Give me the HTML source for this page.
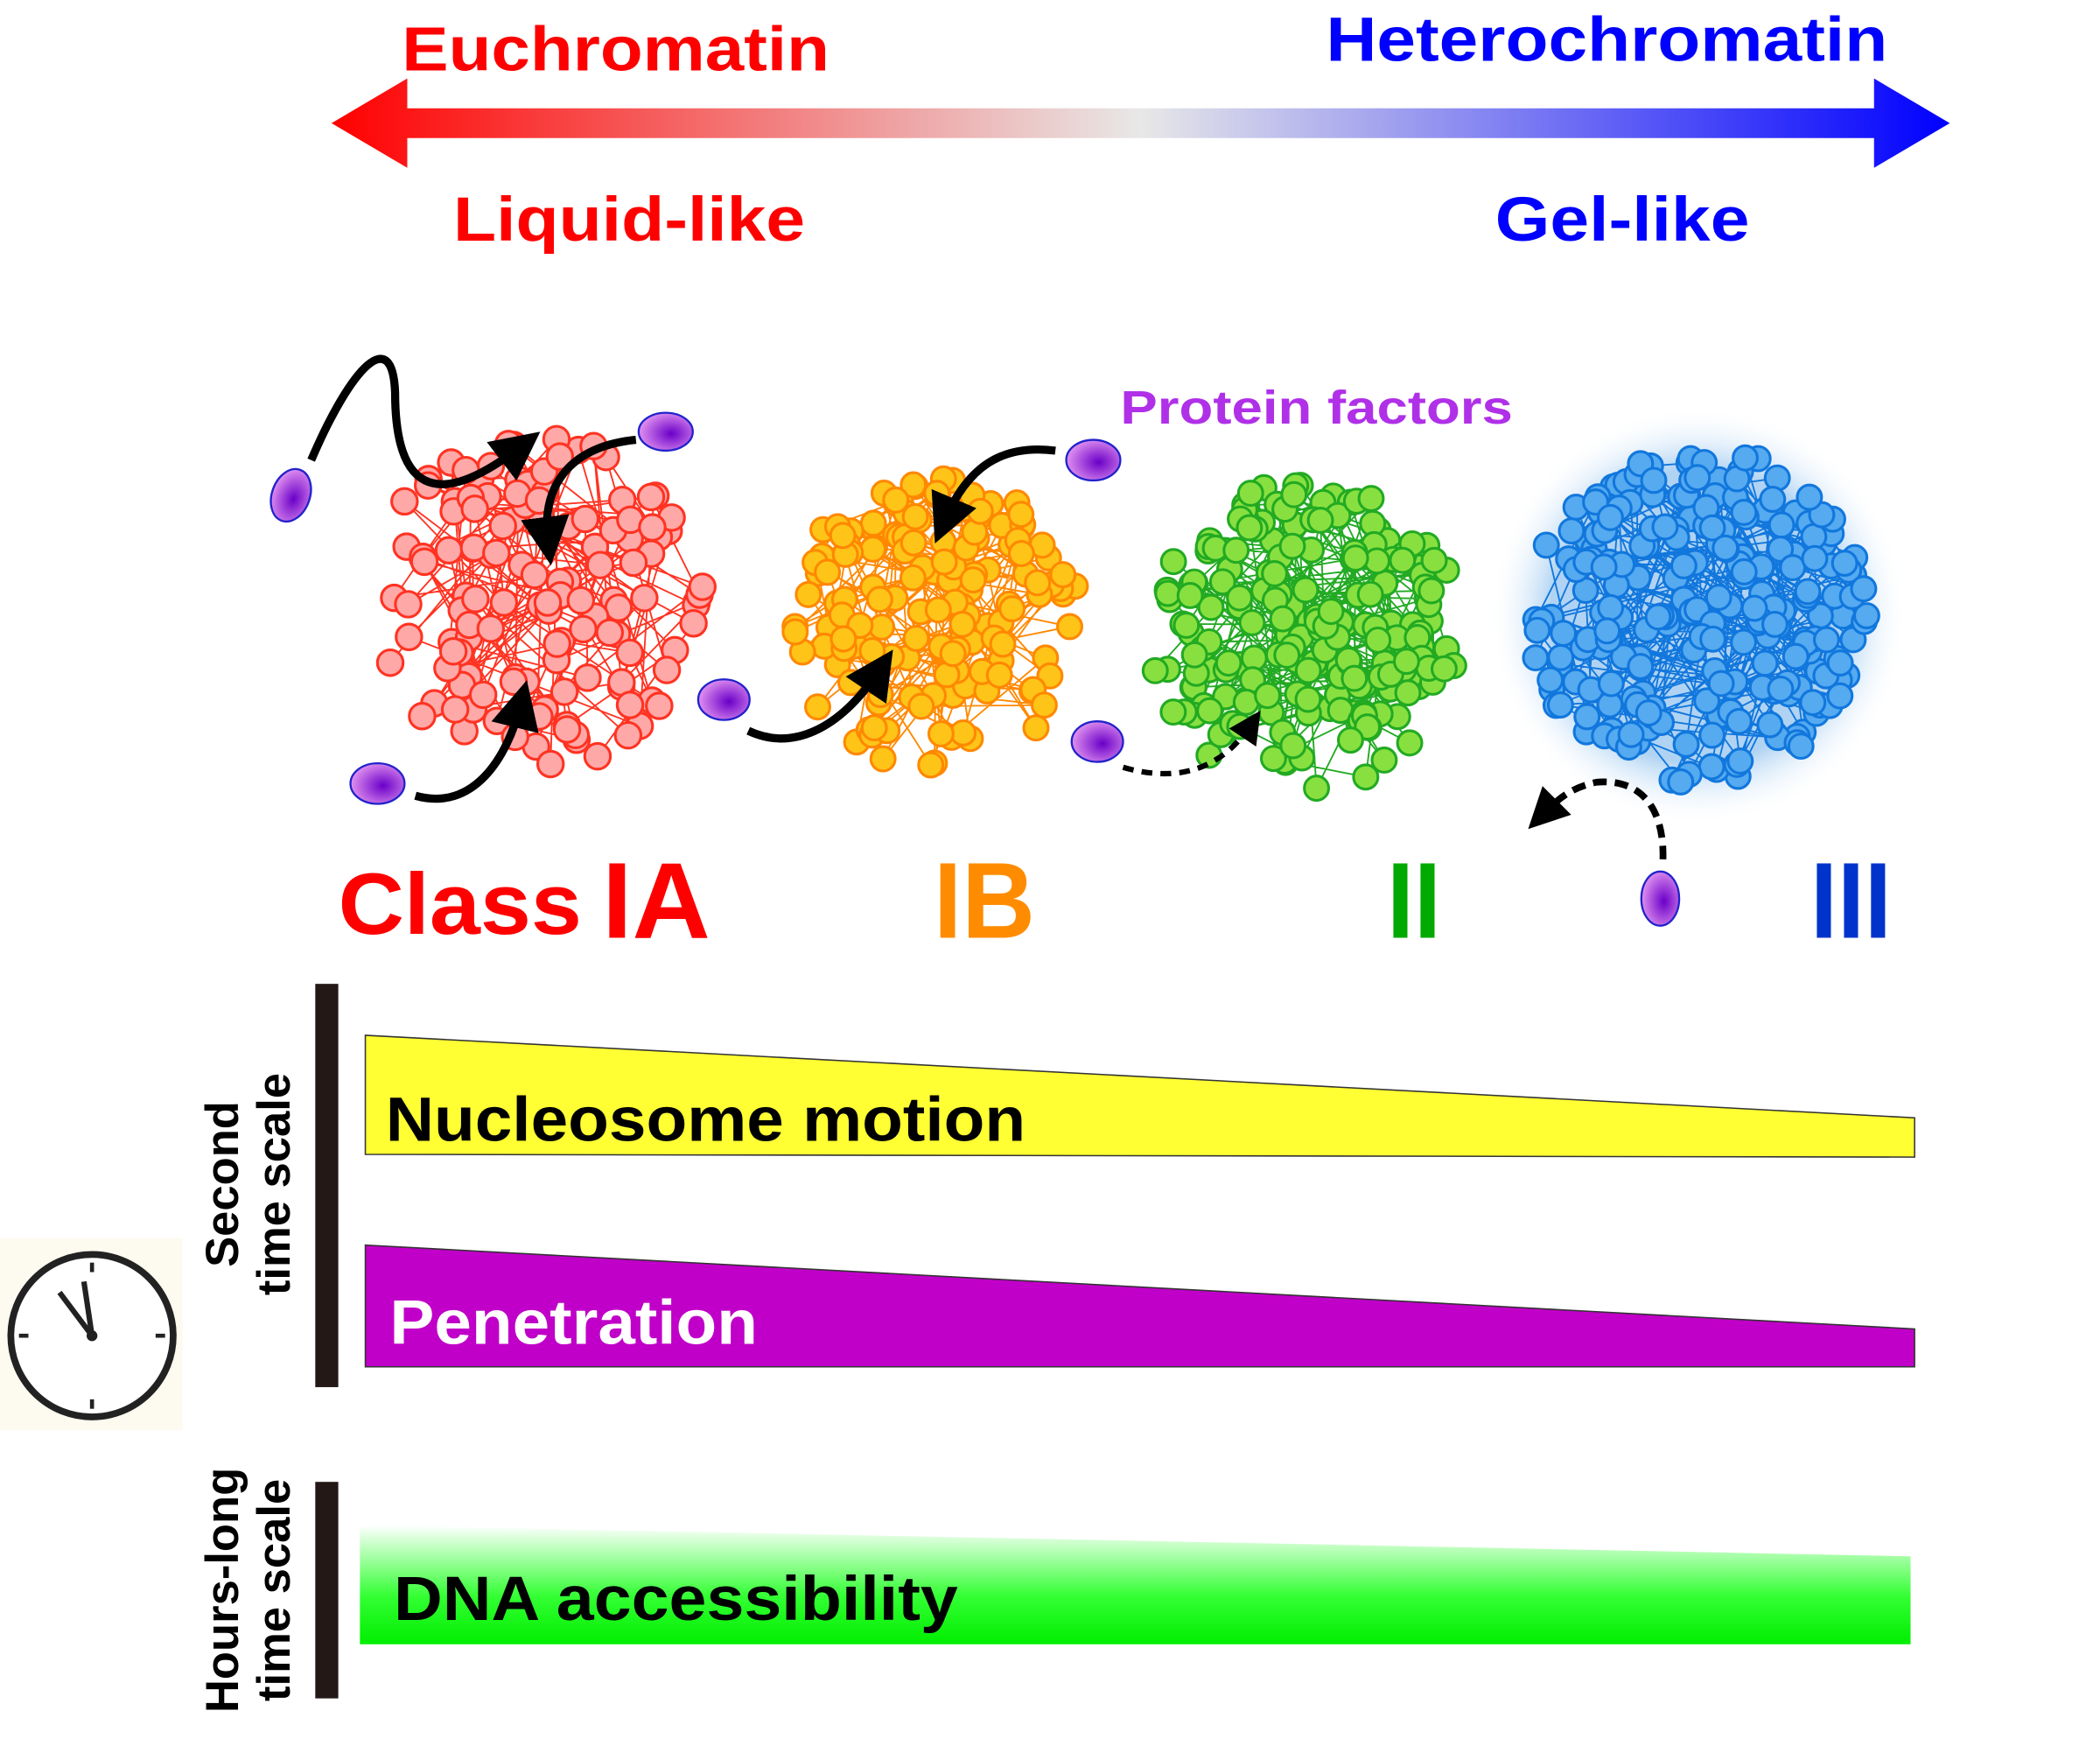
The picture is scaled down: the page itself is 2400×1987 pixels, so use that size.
<!DOCTYPE html>
<html><head><meta charset="utf-8">
<style>
html,body{margin:0;padding:0;background:#fff;}
svg{display:block;}
text{font-family:"Liberation Sans",sans-serif;font-weight:bold;}
</style></head>
<body>
<svg id="s" width="2400" height="1987" viewBox="0 0 1552 1285" preserveAspectRatio="none" xmlns="http://www.w3.org/2000/svg">
<defs>
<linearGradient id="ag" x1="0" x2="1" y1="0" y2="0">
<stop offset="0" stop-color="#ff0000"/><stop offset="0.5" stop-color="#e8e8e8"/><stop offset="1" stop-color="#0000ff"/>
</linearGradient>
<linearGradient id="gg" x1="0" x2="0" y1="0" y2="1">
<stop offset="0" stop-color="#ffffff"/><stop offset="0.6" stop-color="#33ff33"/><stop offset="1" stop-color="#00ee00"/>
</linearGradient>
<radialGradient id="pg" cx="0.6" cy="0.55" r="0.6">
<stop offset="0" stop-color="#6a00c8"/><stop offset="1" stop-color="#e090f0"/>
</radialGradient>
<radialGradient id="glow" cx="0.5" cy="0.5" r="0.5">
<stop offset="0.7" stop-color="#9cc8f0" stop-opacity="0.8"/><stop offset="1" stop-color="#ffffff" stop-opacity="0"/>
</radialGradient>
<marker id="ah" markerWidth="6" markerHeight="6" refX="3" refY="3" orient="auto" markerUnits="strokeWidth">
<path d="M0,0 L6,3 L0,6 Z" fill="#000"/></marker>
</defs>
<text x="297" y="52" font-size="46" fill="#ff0000" textLength="316" lengthAdjust="spacingAndGlyphs">Euchromatin</text>
<text x="980" y="45" font-size="46" fill="#0000ff" textLength="415" lengthAdjust="spacingAndGlyphs">Heterochromatin</text>
<path d="M245,91 L301,58 L301,80 L1385,80 L1385,58 L1441,91 L1385,124 L1385,102 L301,102 L301,124 Z" fill="url(#ag)"/>
<text x="335" y="178" font-size="46" fill="#ff0000" textLength="260" lengthAdjust="spacingAndGlyphs">Liquid-like</text>
<text x="1105" y="178" font-size="46" fill="#0000ff" textLength="188" lengthAdjust="spacingAndGlyphs">Gel-like</text>
<text x="828" y="313" font-size="35" fill="#b030e8" textLength="290" lengthAdjust="spacingAndGlyphs">Protein factors</text>
<circle cx="1255" cy="455" r="155" fill="url(#glow)"/>
<g id="clusters"></g>
<g fill="none" stroke="#000" stroke-width="6">
<path d="M230,340 C260,270 290,240 292,290 C292,360 320,380 385,330" marker-end="url(#ah)"/>
<path d="M470,325 C420,330 400,360 405,400" marker-end="url(#ah)"/>
<path d="M307,588 C350,600 375,560 385,520" marker-end="url(#ah)"/>
<path d="M780,333 C740,328 715,345 698,385" marker-end="url(#ah)"/>
<path d="M553,540 C585,555 620,540 650,495" marker-end="url(#ah)"/>
<path d="M830,567 C875,580 905,565 925,535" stroke-dasharray="8,6" stroke-width="4" marker-end="url(#ah)"/>
<path d="M1229,635 C1230,600 1215,575 1180,578 C1160,582 1150,592 1140,602" stroke-dasharray="10,6" stroke-width="5" marker-end="url(#ah)"/>
</g>
<g stroke="#2222cc" stroke-width="1.5">
<ellipse cx="215" cy="366" rx="14" ry="20" fill="url(#pg)" transform="rotate(20 215 366)"/>
<ellipse cx="492" cy="319" rx="20" ry="14" fill="url(#pg)"/>
<ellipse cx="279" cy="579" rx="20" ry="15" fill="url(#pg)"/>
<ellipse cx="808" cy="340" rx="20" ry="15" fill="url(#pg)"/>
<ellipse cx="535" cy="517" rx="19" ry="15" fill="url(#pg)"/>
<ellipse cx="811" cy="548" rx="19" ry="15" fill="url(#pg)"/>
<ellipse cx="1227" cy="664" rx="14" ry="20" fill="url(#pg)"/>
</g>
<text x="250" y="690" font-size="64" fill="#ff0000" textLength="180" lengthAdjust="spacingAndGlyphs">Class</text>
<text x="445" y="693" font-size="80" fill="#ff0000" textLength="80" lengthAdjust="spacingAndGlyphs">IA</text>
<text x="690" y="693" font-size="80" fill="#ff8c00" textLength="75" lengthAdjust="spacingAndGlyphs">IB</text>
<text x="1025" y="693" font-size="80" fill="#00aa00" textLength="40" lengthAdjust="spacingAndGlyphs">II</text>
<text x="1338" y="693" font-size="80" fill="#0033cc" textLength="60" lengthAdjust="spacingAndGlyphs">III</text>
<rect x="233" y="727" width="17" height="298" fill="#231815"/>
<rect x="233" y="1095" width="17" height="160" fill="#231815"/>
<polygon points="270,765 1415,826 1415,855 270,853" fill="#ffff33" stroke="#333" stroke-width="1"/>
<text x="285" y="843" font-size="46" fill="#000" textLength="473" lengthAdjust="spacingAndGlyphs">Nucleosome motion</text>
<polygon points="270,920 1415,982 1415,1010 270,1010" fill="#c000c8" stroke="#333" stroke-width="1"/>
<text x="288" y="993" font-size="46" fill="#fff" textLength="272" lengthAdjust="spacingAndGlyphs">Penetration</text>
<polygon points="266,1127 1412,1150 1412,1215 266,1215" fill="url(#gg)"/>
<text x="291" y="1197" font-size="46" fill="#000" textLength="417" lengthAdjust="spacingAndGlyphs">DNA accessibility</text>
<text transform="translate(176,875) rotate(-90)" text-anchor="middle" font-size="34" fill="#000">Second</text>
<text transform="translate(214,875) rotate(-90)" text-anchor="middle" font-size="34" fill="#000">time scale</text>
<text transform="translate(176,1175) rotate(-90)" text-anchor="middle" font-size="34" fill="#000">Hours-long</text>
<text transform="translate(214,1175) rotate(-90)" text-anchor="middle" font-size="34" fill="#000">time scale</text>
<rect x="0" y="915" width="135" height="142" fill="#fdfaf0"/>
<circle cx="68" cy="987" r="60" fill="#fff" stroke="#222" stroke-width="5"/>
<g stroke="#222" stroke-width="3">
<line x1="68" y1="933" x2="68" y2="940"/><line x1="68" y1="1034" x2="68" y2="1041"/>
<line x1="14" y1="987" x2="21" y2="987"/><line x1="115" y1="987" x2="122" y2="987"/>
<line x1="68" y1="987" x2="44" y2="955" stroke-width="4"/><line x1="68" y1="987" x2="62" y2="947" stroke-width="4"/>
</g>
<circle cx="68" cy="987" r="4" fill="#222"/>
</svg>
<script>
(function(){
var g=document.getElementById('clusters');var ns='http://www.w3.org/2000/svg';
var seed=7;function r(){seed=(seed*16807)%2147483647;return seed/2147483647;}
function cl(cx,cy,R,n,fill,st,rad){
 var pts=[];
 for(var i=0;i<n;i++){var a=r()*6.283,d=R*Math.sqrt(r());pts.push([cx+d*Math.cos(a),cy+d*Math.sin(a)]);}
 var p=document.createElementNS(ns,'polyline');
 p.setAttribute('points',pts.map(function(q){return q[0].toFixed(1)+','+q[1].toFixed(1)}).join(' '));
 p.setAttribute('fill','none');p.setAttribute('stroke',st);p.setAttribute('stroke-width','1.2');g.appendChild(p);
 for(var i=0;i<n;i++){var c=document.createElementNS(ns,'circle');c.setAttribute('cx',pts[i][0]);c.setAttribute('cy',pts[i][1]);c.setAttribute('r',rad);
 c.setAttribute('fill',fill);c.setAttribute('stroke',st);c.setAttribute('stroke-width','2');g.appendChild(c);}
}
cl(395,445,125,130,'#ffa8a8','#ff3322',9.5);
cl(690,462,110,150,'#ffc418','#ff8800',9);
cl(965,470,115,200,'#88e040','#22aa22',9);
cl(1255,455,125,230,'#55aaf0','#1177dd',9);
})();
</script>
</body></html>
